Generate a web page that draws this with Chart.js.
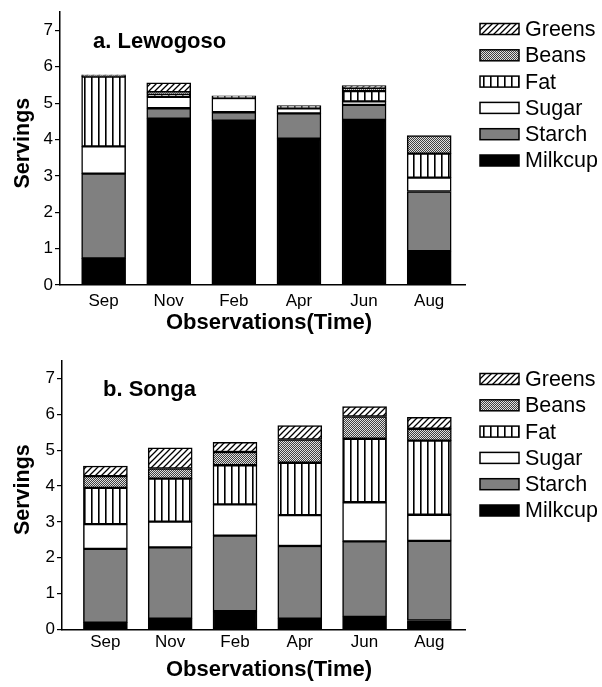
<!DOCTYPE html>
<html>
<head>
<meta charset="utf-8">
<script src="https://cdn.jsdelivr.net/npm/chart.js@4"></script>
<style>
  body { margin: 0; background: #fff; }
  #wrap { position: relative; width: 602px; height: 687px; }
  canvas { position: absolute; left: 0; }
</style>
</head>
<body>
<div id="wrap">
  <canvas id="chartA" width="602" height="343" style="top:0"></canvas>
  <canvas id="chartB" width="602" height="344" style="top:343px"></canvas>
</div>
<script>
const months = ['Sep', 'Nov', 'Feb', 'Apr', 'Jun', 'Aug'];
const yTicks = [0, 1, 2, 3, 4, 5, 6, 7];

// a. Lewogoso
const lewMilkcup = [0.73, 4.57, 4.52, 4.02, 4.54, 0.93];
const lewStarch  = [2.33, 0.29, 0.23, 0.70, 0.41, 1.64];
const lewSugar   = [0.75, 0.31, 0.39, 0.14, 0.10, 0.38];
const lewFat     = [1.92, 0.08, 0.06, 0.07, 0.28, 0.66];
const lewBeans   = [0.03, 0.05, 0, 0, 0.08, 0.50];
const lewGreens  = [0.02, 0.26, 0, 0, 0.07, 0];

// b. Songa
const sonMilkcup = [0.19, 0.30, 0.51, 0.30, 0.35, 0.25];
const sonStarch  = [2.06, 1.99, 2.11, 2.03, 2.11, 2.22];
const sonSugar   = [0.69, 0.72, 0.87, 0.86, 1.09, 0.73];
const sonFat     = [1.01, 1.20, 1.09, 1.46, 1.77, 2.07];
const sonBeans   = [0.33, 0.28, 0.37, 0.65, 0.62, 0.33];
const sonGreens  = [0.28, 0.58, 0.27, 0.39, 0.28, 0.32];

const FONT = '"Liberation Sans", Arial, sans-serif';
Chart.defaults.color = '#000';
Chart.defaults.font.family = FONT;

function makePattern(w, h, draw) {
    const c = document.createElement('canvas');
    c.width = w; c.height = h;
    const g = c.getContext('2d');
    g.fillStyle = '#fff';
    g.fillRect(0, 0, w, h);
    draw(g);
    return g.createPattern(c, 'repeat');
}

const hatch = makePattern(6, 6, g => {
    g.strokeStyle = '#000';
    g.lineWidth = 1.3;
    g.beginPath();
    g.moveTo(-1, 7); g.lineTo(7, -1);
    g.moveTo(-1, 1); g.lineTo(1, -1);
    g.moveTo(5, 7); g.lineTo(7, 5);
    g.stroke();
});
const dots = makePattern(2, 2, g => {
    g.fillStyle = '#e0e0e0';
    g.fillRect(0, 0, 2, 2);
    g.fillStyle = '#404040';
    g.fillRect(0, 0, 1, 1);
    g.fillRect(1, 1, 1, 1);
});
const vlines = makePattern(7, 4, g => {
    g.fillStyle = '#000';
    g.fillRect(0, 0, 1.6, 4);
});

const fills = {
    Milkcup: '#000000',
    Starch: '#808080',
    Sugar: '#ffffff',
    Fat: vlines,
    Beans: dots,
    Greens: hatch
};
const legendOrder = ['Greens', 'Beans', 'Fat', 'Sugar', 'Starch', 'Milkcup'];

function ds(label, values) {
    return {
        label: label,
        data: values.map((v, i) => ({ x: i, y: v || null })),
        backgroundColor: fills[label],
        borderColor: '#000',
        borderWidth: 1.5,
        borderSkipped: false,
        barThickness: 44
    };
}

const extras = {
    id: 'extras',
    afterDraw(chart, args, opts) {
        const c = chart.ctx;
        const y = chart.scales.y;
        c.save();
        c.fillStyle = '#000';
        c.textBaseline = 'middle';
        // panel title
        c.font = 'bold 22px ' + FONT;
        c.textAlign = 'left';
        c.fillText(opts.title, opts.titleX, opts.titleY);
        // x title
        c.textAlign = 'center';
        c.fillText('Observations(Time)', 269, opts.xTitleY);
        // y title
        c.save();
        c.translate(23, y.getPixelForValue(3.9));
        c.rotate(-Math.PI / 2);
        c.font = 'bold 21.5px ' + FONT;
        c.fillText('Servings', 0, 0);
        c.restore();
        // legend
        legendOrder.forEach((name, i) => {
            const ly = opts.legendY + i * 26.3;
            c.fillStyle = fills[name];
            c.fillRect(480, ly - 5.5, 39, 11);
            c.strokeStyle = '#000';
            c.lineWidth = 1.5;
            c.strokeRect(480, ly - 5.5, 39, 11);
            c.fillStyle = '#000';
            c.font = '21.5px ' + FONT;
            c.textAlign = 'left';
            c.fillText(name, 525, ly + 1);
        });
        c.restore();
    }
};

function buildChart(id, sets, p) {
    return new Chart(document.getElementById(id), {
        type: 'bar',
        data: {
            datasets: [
                ds('Milkcup', sets[0]),
                ds('Starch', sets[1]),
                ds('Sugar', sets[2]),
                ds('Fat', sets[3]),
                ds('Beans', sets[4]),
                ds('Greens', sets[5])
            ]
        },
        options: {
            responsive: false,
            animation: false,
            layout: { padding: { top: p.top, right: 137, bottom: 0, left: 0 } },
            plugins: {
                legend: { display: false },
                tooltip: { enabled: false },
                extras: { title: p.title, titleX: p.titleX, titleY: p.titleY, legendY: p.legendY, xTitleY: p.xTitleY }
            },
            scales: {
                x: {
                    type: 'linear',
                    stacked: true,
                    offset: false,
                    min: -0.67,
                    max: 5.55,
                    grid: { display: false, drawTicks: false },
                    border: { display: true, color: '#000', width: 1.5 },
                    afterBuildTicks: s => { s.ticks = months.map((m, i) => ({ value: i })); },
                    afterFit: s => { s.height = p.xHeight; },
                    ticks: {
                        callback: v => months[v],
                        font: { size: 17 },
                        padding: p.tickPad,
                        maxRotation: 0
                    }
                },
                y: {
                    stacked: true,
                    min: 0,
                    max: 7.5,
                    afterBuildTicks: s => { s.ticks = yTicks.map(v => ({ value: v })); },
                    afterFit: s => { s.width = p.yWidth; },
                    grid: { drawOnChartArea: false, tickLength: 5, color: '#000', lineWidth: 1.2 },
                    border: { display: true, color: '#000', width: 1.5 },
                    ticks: { font: { size: 17 }, padding: 2 }
                }
            }
        },
        plugins: [extras]
    });
}

buildChart('chartA', [lewMilkcup, lewStarch, lewSugar, lewFat, lewBeans, lewGreens], {
    top: 10, xHeight: 58, yWidth: 60, tickPad: 6, xTitleY: 322.5,
    title: 'a. Lewogoso', titleX: 93, titleY: 42, legendY: 29
});
buildChart('chartB', [sonMilkcup, sonStarch, sonSugar, sonFat, sonBeans, sonGreens], {
    top: 17.6, xHeight: 57.5, yWidth: 62, tickPad: 3, xTitleY: 327,
    title: 'b. Songa', titleX: 103, titleY: 47, legendY: 36
});
</script>
</body>
</html>
